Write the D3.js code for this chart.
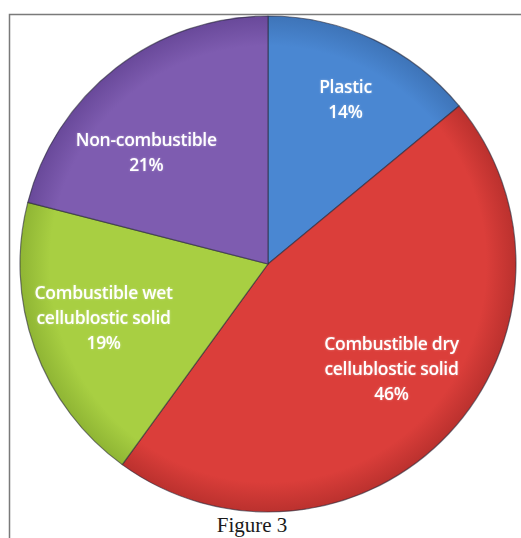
<!DOCTYPE html>
<html><head><meta charset="utf-8">
<script src="https://cdn.jsdelivr.net/npm/d3@7"></script>
<style>body{margin:0;background:#fff}svg{display:block}</style>
</head><body>
<script>
const categories = ["Plastic", "Combustible dry cellublostic solid", "Combustible wet cellublostic solid", "Non-combustible"];
const values = [14, 46, 19, 21];
const labelLines = [["Plastic", "14%"], ["Combustible dry", "cellublostic solid", "46%"], ["Combustible wet", "cellublostic solid", "19%"], ["Non-combustible", "21%"]];
const colors = ["#4a87d2", "#db3e3a", "#a8cf42", "#7e5cb0"];
const darkColors = ["#3e74b8", "#bb312e", "#8fb534", "#69499a"];
const caption = "Figure 3";

const W = 521, H = 538;
const cx = 268, cy = 264, R = 248;
const svg = d3.select("body").append("svg").attr("width", W).attr("height", H);

// frame
svg.append("rect").attr("x", 9.5).attr("y", 14.5).attr("width", W + 10).attr("height", H + 10)
  .attr("fill", "#fff").attr("stroke", "#7a7a7a").attr("stroke-width", 1.5);

const defs = svg.append("defs");
colors.forEach((c, i) => {
  const g = defs.append("radialGradient").attr("id", "g" + i)
    .attr("gradientUnits", "userSpaceOnUse").attr("cx", 0).attr("cy", 0).attr("r", R);
  g.append("stop").attr("offset", "0%").attr("stop-color", c);
  g.append("stop").attr("offset", "88%").attr("stop-color", c);
  g.append("stop").attr("offset", "100%").attr("stop-color", darkColors[i]);
});
const f = defs.append("filter").attr("id", "glow").attr("x", "-20%").attr("y", "-20%").attr("width", "140%").attr("height", "140%");
f.append("feGaussianBlur").attr("in", "SourceAlpha").attr("stdDeviation", 1.2).attr("result", "b");
f.append("feFlood").attr("flood-color", "#ffffff").attr("flood-opacity", 0.35);
f.append("feComposite").attr("in2", "b").attr("operator", "in").attr("result", "s");
const m = f.append("feMerge"); m.append("feMergeNode").attr("in", "s"); m.append("feMergeNode").attr("in", "SourceGraphic");

const pie = d3.pie().sort(null).value(d => d)(values);
const arc = d3.arc().innerRadius(0).outerRadius(R);
const gPie = svg.append("g").attr("transform", `translate(${cx},${cy})`);
gPie.selectAll("path").data(pie).join("path")
  .attr("d", arc).attr("fill", (d, i) => `url(#g${i})`)
  .attr("stroke", "#2a2a3a").attr("stroke-opacity", 0.6).attr("stroke-width", 1.2).attr("stroke-linejoin", "round");

const labelR = [182, 162, 173, 165];
const angAdj = [0, -0.05, 0.03, -0.17];
const fs = 17.5, lh = 25;
pie.forEach((d, i) => {
  const a = (d.startAngle + d.endAngle) / 2 + angAdj[i];
  const x = Math.sin(a) * labelR[i], y = -Math.cos(a) * labelR[i];
  const lines = labelLines[i];
  const t = gPie.append("text").attr("text-anchor", "middle")
    .attr("font-family", "'Open Sans', sans-serif").attr("font-weight", 600)
    .attr("font-size", fs).attr("fill", "#fff").attr("filter", "url(#glow)")
    .attr("letter-spacing", -0.3);
  lines.forEach((l, j) => {
    t.append("tspan").attr("x", x).attr("y", y + (j - (lines.length - 1) / 2) * lh + fs * 0.35).text(l);
  });
});

svg.append("text").attr("x", 252).attr("y", 532).attr("text-anchor", "middle")
  .attr("font-family", "'Liberation Serif', 'Times New Roman', serif").attr("font-size", 21)
  .attr("fill", "#1a1a1a").text(caption);
</script>
</body></html>
